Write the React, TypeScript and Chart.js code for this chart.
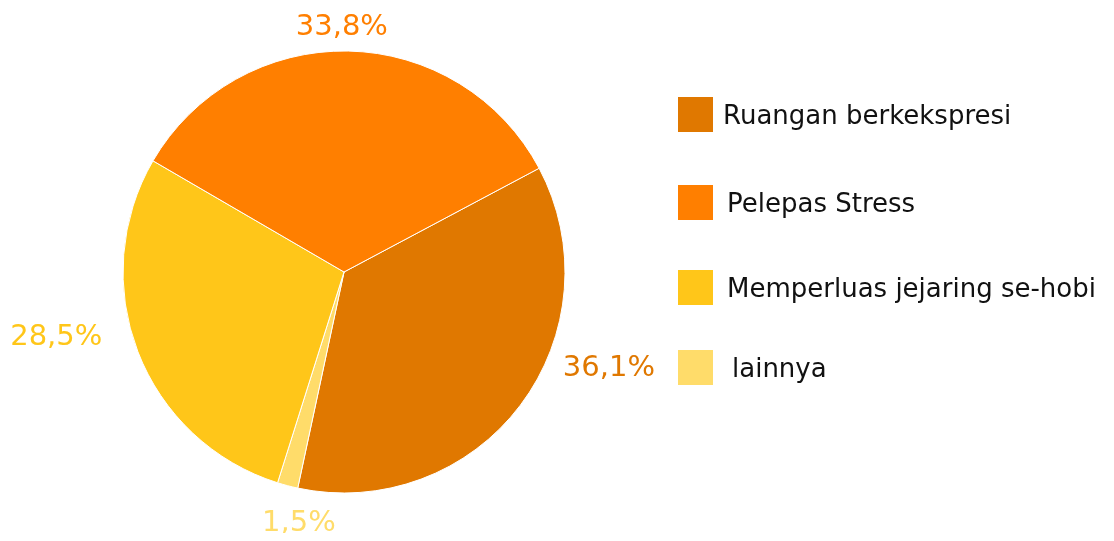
import React, { useEffect, useRef } from "react";
import { Chart, registerables } from "chart.js";

Chart.register(...registerables);

// Data in clockwise drawing order
const categories = ["Ruangan berkekspresi", "lainnya", "Memperluas jejaring se-hobi", "Pelepas Stress"];
const values = [36.1, 1.5, 28.5, 33.8];
const valueLabels = ["36,1%", "1,5%", "28,5%", "33,8%"];
const colors = ["#E07800", "#FFDC6A", "#FFC619", "#FF7F00"];
// Legend order (as in the reference)
const legendOrder = ["Ruangan berkekspresi", "Pelepas Stress", "Memperluas jejaring se-hobi", "lainnya"];

// label placement styles (degrees shift from slice middle, px beyond radius)
const labelAngleShift = [-17, -4.6, 8.4, -1.6];
const labelOffset = [61, 34, 74, 24];

const FONT = "'DejaVu Sans', sans-serif";
const RADIUS = 221;

const labelPlugin = {
  id: "outerLabels",
  afterDatasetsDraw(chart: any) {
    const meta = chart.getDatasetMeta(0);
    const ctx = chart.ctx;
    ctx.save();
    ctx.font = `29px ${FONT}`;
    ctx.textAlign = "center";
    ctx.textBaseline = "middle";
    meta.data.forEach((arc: any, i: number) => {
      const { x, y, startAngle, endAngle, outerRadius } = arc.getProps(
        ["x", "y", "startAngle", "endAngle", "outerRadius"],
        true
      );
      const mid = (startAngle + endAngle) / 2 + (labelAngleShift[i] * Math.PI) / 180;
      const r = outerRadius + labelOffset[i];
      ctx.fillStyle = colors[i];
      ctx.fillText(valueLabels[i], x + Math.cos(mid) * r, y + Math.sin(mid) * r);
    });
    ctx.restore();
  },
};

const legendTops = [89, 177, 262, 342];
const legendGaps = [10, 14, 14, 19];

export default function App() {
  const ref = useRef<HTMLCanvasElement>(null);
  useEffect(() => {
    if (!ref.current) return;
    const chart = new Chart(ref.current, {
      type: "pie",
      data: {
        labels: categories,
        datasets: [
          {
            data: values,
            backgroundColor: colors,
            borderColor: "#ffffff",
            borderWidth: 1,
            hoverOffset: 0,
            radius: RADIUS,
          } as any,
        ],
      },
      options: {
        animation: false,
        responsive: true,
        maintainAspectRatio: false,
        rotation: 62,
        layout: { padding: { left: 0, right: 426, top: 3, bottom: 0 } },
        plugins: {
          legend: { display: false },
          tooltip: { enabled: false },
        },
      },
      plugins: [labelPlugin],
    });
    return () => chart.destroy();
  }, []);

  return (
    <div style={{ position: "relative", width: "100%", height: 525 }}>
      <canvas ref={ref} />
      {legendOrder.map((name, k) => {
        const i = categories.indexOf(name);
        return (
          <div
            key={name}
            style={{
              position: "absolute",
              left: 670,
              top: legendTops[k],
              height: 35,
              display: "flex",
              alignItems: "center",
              fontFamily: FONT,
              fontSize: 26,
              color: "#111",
              whiteSpace: "nowrap",
            }}
          >
            <span style={{ width: 35, height: 35, background: colors[i], display: "inline-block", flex: "none" }} />
            <span style={{ marginLeft: legendGaps[k] }}>{name}</span>
          </div>
        );
      })}
    </div>
  );
}
